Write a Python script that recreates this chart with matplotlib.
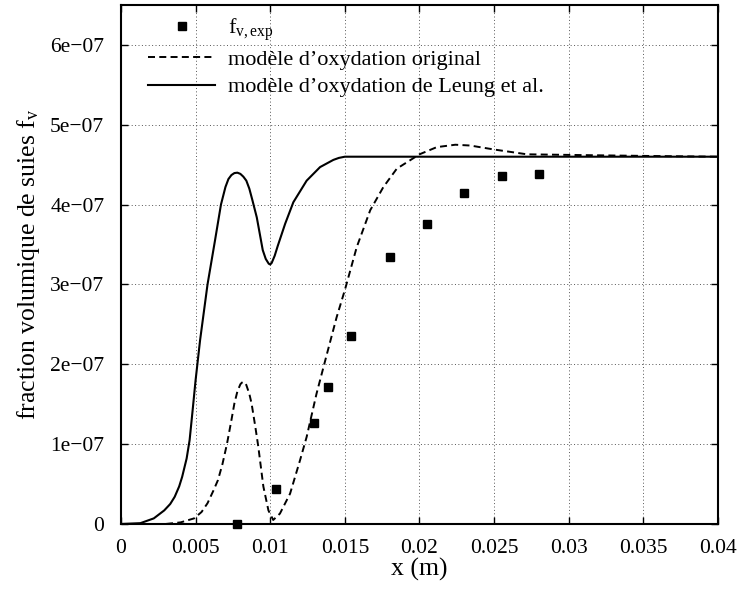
import matplotlib
matplotlib.use("Agg")
import matplotlib.pyplot as plt

plt.rcParams["font.family"] = ["Liberation Serif", "DejaVu Serif"]
plt.rcParams["mathtext.fontset"] = "custom"
plt.rcParams["mathtext.rm"] = "Liberation Serif"
plt.rcParams["mathtext.it"] = "Liberation Serif:italic"
plt.rcParams["font.size"] = 15.5

# experimental soot volume fraction
exp_x = [0.0078, 0.0104, 0.0129, 0.0139, 0.0154, 0.0180, 0.0205, 0.0230, 0.0255, 0.0280]
exp_y = [0.0, 0.44, 1.27, 1.71, 2.35, 3.34, 3.76, 4.15, 4.36, 4.38]

# original oxidation model (dashed)
orig_x = [0.0, 0.0030, 0.0040, 0.0049, 0.0054, 0.0058, 0.0062, 0.0065, 0.0068,
          0.0071, 0.0074, 0.0076, 0.0078, 0.0080, 0.0081, 0.0082, 0.0083, 0.0084,
          0.0086, 0.00875, 0.0090, 0.0092, 0.00954, 0.00988, 0.0102, 0.01065,
          0.01133, 0.0120, 0.01244, 0.0131, 0.0138, 0.01445, 0.0150, 0.0158,
          0.0167, 0.01758, 0.01848, 0.0200, 0.02116, 0.0224, 0.0234, 0.0250,
          0.0272, 0.0310, 0.0350, 0.0400]
orig_y = [0.0, 0.0, 0.02, 0.07, 0.15, 0.26, 0.42, 0.55, 0.75,
          1.0, 1.30, 1.51, 1.66, 1.75, 1.77, 1.78, 1.77, 1.74,
          1.63, 1.51, 1.22, 0.97, 0.47, 0.17, 0.05, 0.13,
          0.38, 0.80, 1.09, 1.63, 2.13, 2.59, 2.93, 3.47,
          3.93, 4.22, 4.45, 4.63, 4.72, 4.75, 4.74, 4.69,
          4.63, 4.62, 4.61, 4.60]

# Leung et al. oxidation model (solid)
leung_x = [0.0, 0.0013, 0.0022, 0.0029, 0.0033, 0.0036, 0.0039, 0.0041, 0.0044,
           0.0046, 0.0048, 0.0050, 0.0053, 0.0058, 0.0063, 0.0067, 0.0070, 0.0072,
           0.0074, 0.0076, 0.0078, 0.0080, 0.0082, 0.0084, 0.0086, 0.0088, 0.0091,
           0.0095, 0.0097, 0.0099, 0.0100, 0.0101, 0.0103, 0.0105, 0.0110, 0.01155,
           0.01244, 0.01334, 0.01423, 0.0146, 0.0150, 0.0160, 0.0200, 0.0300, 0.0400]
leung_y = [0.0, 0.01, 0.07, 0.17, 0.25, 0.34, 0.47, 0.59, 0.82,
           1.05, 1.42, 1.80, 2.30, 3.0, 3.55, 4.0, 4.22, 4.32,
           4.37, 4.395, 4.40, 4.385, 4.35, 4.30, 4.20, 4.06, 3.84,
           3.43, 3.32, 3.26, 3.25, 3.27, 3.36, 3.48, 3.76, 4.03,
           4.30, 4.47, 4.56, 4.585, 4.60, 4.60, 4.60, 4.60, 4.60]

x_ticks = [0, 0.005, 0.01, 0.015, 0.02, 0.025, 0.03, 0.035, 0.04]
x_labels = ["0", "0.005", "0.01", "0.015", "0.02", "0.025", "0.03", "0.035", "0.04"]
y_ticks = [0, 1e-07, 2e-07, 3e-07, 4e-07, 5e-07, 6e-07]
y_labels = ["0", "1e\u221207", "2e\u221207", "3e\u221207", "4e\u221207", "5e\u221207", "6e\u221207"]

scale = 1e-07

fig = plt.figure(figsize=(7.42, 5.89), dpi=100)
ax = fig.add_axes([0.163, 0.1104, 0.8047, 0.8811])

ax.plot(exp_x, [v * scale for v in exp_y], "ks", ms=6, ls="none",
        label=r"f$_{\mathrm{v,exp}}$", clip_on=False, zorder=5)
ax.plot(orig_x, [v * scale for v in orig_y], color="black", lw=1.4,
        ls=(0, (3.6, 2.2)), label="modèle d\u2019oxydation original")
ax.plot(leung_x, [v * scale for v in leung_y], color="black", lw=1.5,
        label="modèle d\u2019oxydation de Leung et al.")

ax.set_xlim(0, 0.04)
ax.set_ylim(0, 6.5e-07)
ax.set_xticks(x_ticks)
ax.set_xticklabels(x_labels)
ax.set_yticks(y_ticks)
ax.set_yticklabels(y_labels)
ax.tick_params(direction="in", length=5, width=1, top=True, right=True)
ax.tick_params(axis="x", pad=11)
ax.tick_params(axis="y", pad=12)
ax.grid(True, ls=(0, (1, 2.5)), color="#555555", lw=0.7)
for s in ax.spines.values():
    s.set_linewidth(1.5)

ax.set_xlabel("x (m)", fontsize=18.5, labelpad=0)
ax.set_ylabel(r"fraction volumique de suies f$_{\mathrm{v}}$", fontsize=18.5, labelpad=6)

leg = ax.legend(loc="upper left", bbox_to_anchor=(0.046, 0.978), frameon=False,
                handlelength=3.0, handletextpad=0.6, labelspacing=0.3,
                borderpad=0, borderaxespad=0, fontsize=16)

fig.savefig("out.png", dpi=100)
